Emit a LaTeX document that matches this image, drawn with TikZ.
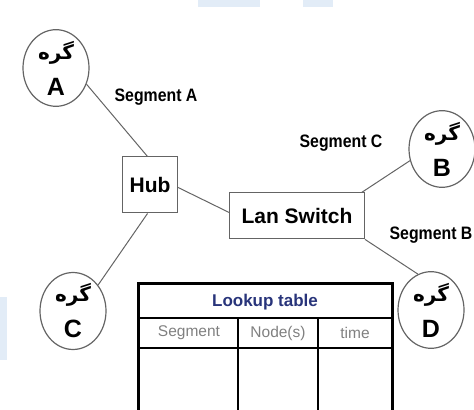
\documentclass[tikz,border=0pt]{standalone}
\usepackage{fontspec}
\usepackage{graphicx}
\setmainfont{Liberation Sans}
\newfontfamily\persfont[Script=Arabic]{DejaVu Sans}
\TeXXeTstate=1
\usetikzlibrary{shapes.geometric}

\definecolor{lookupblue}{RGB}{40,52,122}
\definecolor{linegray}{RGB}{100,100,100}
\definecolor{wmblue}{RGB}{226,236,247}

% 节点：波斯文 + 字母
\newcommand{\gereh}[1]{{\persfont\bfseries\fontsize{10}{11}\selectfont\beginR گره\endR}\\{\bfseries #1}}
% 网段标注（窄粗体）
\newcommand{\seglabel}[1]{\scalebox{0.88}[1]{\fontsize{9}{10}\selectfont\bfseries #1}}

\begin{document}
\begin{tikzpicture}[x=0.5pt,y=-0.5pt,
  hostnode/.style={ellipse,draw=linegray,line width=0.6pt,minimum width=33pt,
    minimum height=36.5pt,inner sep=0pt,align=center,font=\fontsize{12.5}{18}\selectfont},
  devbox/.style={rectangle,draw=linegray,line width=0.5pt,inner sep=0pt,
    font=\fontsize{10.5}{12}\selectfont\bfseries},
  wire/.style={draw=linegray,line width=0.5pt},
  segtext/.style={inner sep=0pt},
  tabtext/.style={inner sep=0pt,text=gray,font=\fontsize{7.75}{9}\selectfont}]
  \useasboundingbox (0,0) rectangle (474,410);
  \clip (0,0) rectangle (474,410);
  % 背景水印
  \fill[wmblue] (198,0) rectangle (260,7);
  \fill[wmblue] (303,0) rectangle (333,7);
  \fill[wmblue] (0,297) rectangle (7,360);
  % 四个节点
  \node[hostnode] (A) at (56,68) {\gereh{A}};
  \node[hostnode] (B) at (442,149) {\gereh{B}};
  \node[hostnode] (C) at (73,311) {\gereh{C}};
  \node[hostnode] (D) at (431,310) {\gereh{D}};
  % 集线器与交换机
  \node[devbox,minimum width=27.5pt,minimum height=28pt] (hub) at (150,185) {Hub};
  \node[devbox,minimum width=67.5pt,minimum height=23pt] (lan) at (297,216) {Lan Switch};
  % 连线
  \draw[wire] (A.-28) -- (hub.95);
  \draw[wire] (hub.-5) -- (lan.177);
  \draw[wire] (lan.20) -- (B.200);
  \draw[wire] (lan.-19) -- (D.110);
  \draw[wire] (hub.265) -- (C.46);
  % 网段标注
  \node[segtext] (segA) at (156,97) {\seglabel{Segment A}};
  \node[segtext] (segC) at (341,143) {\seglabel{Segment C}};
  \node[segtext] (segB) at (431,235) {\seglabel{Segment B}};
  % 查找表
  \draw[line width=1.5pt] (138,414) -- (138,283) -- (392,283) -- (392,414);
  \draw[line width=0.8pt] (138,318) -- (392,318);
  \draw[line width=0.8pt] (138,348) -- (392,348);
  \draw[line width=0.8pt] (238,318) -- (238,414);
  \draw[line width=0.8pt] (318,318) -- (318,414);
  \node[inner sep=0pt,text=lookupblue,font=\fontsize{8.5}{10}\selectfont\bfseries] (lookup) at (265,302) {Lookup table};
  \node[tabtext] (colseg) at (189,333) {Segment};
  \node[tabtext] (colnode) at (278,333) {Node(s)};
  \node[tabtext] (coltime) at (355,333) {time};
\end{tikzpicture}
\end{document}
